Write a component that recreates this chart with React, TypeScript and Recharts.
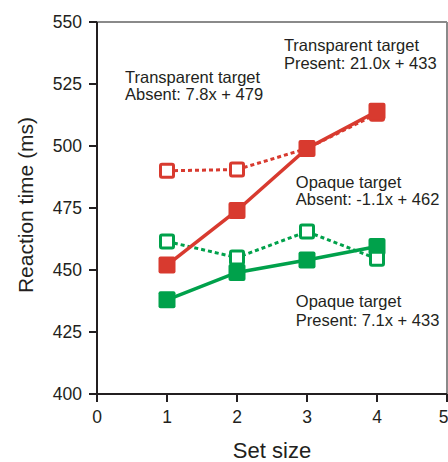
import React from "react";
import {
  LineChart,
  Line,
  XAxis,
  YAxis,
  ReferenceLine,
  ReferenceDot,
} from "recharts";

const setSizes = [1, 2, 3, 4];
const transparentPresent = [452, 474, 499, 514];
const transparentAbsent = [490, 490.5, 499, 513];
const opaquePresent = [438, 449, 454, 459.5];
const opaqueAbsent = [461.5, 455, 465.5, 454.5];

const xTicks = [0, 1, 2, 3, 4, 5];
const yTicks = [400, 425, 450, 475, 500, 525, 550];

const notes = [
  { x: 0.4, y: 525.4, lines: ["Transparent target", "Absent: 7.8x + 479"], lh: 17 },
  { x: 2.67, y: 538.3, lines: ["Transparent target", "Present: 21.0x + 433"], lh: 17.5 },
  { x: 2.84, y: 483.1, lines: ["Opaque target", "Absent: -1.1x + 462"], lh: 17 },
  { x: 2.84, y: 435.1, lines: ["Opaque target", "Present: 7.1x + 433"], lh: 19 },
];

const data = setSizes.map((s, i) => ({
  size: s,
  tp: transparentPresent[i],
  ta: transparentAbsent[i],
  op: opaquePresent[i],
  oa: opaqueAbsent[i],
}));

const RED = "#d83a2f";
const GREEN = "#00a14b";
const INK = "#231f20";
const FONT = "'Liberation Sans', Arial, sans-serif";

function filledSquare(color: string) {
  return (props: any) => {
    const { cx, cy, index } = props;
    if (cx == null || cy == null) return <g key={index} />;
    return (
      <rect key={index} x={cx - 8.5} y={cy - 8.5} width={17} height={17} rx={2} fill={color} />
    );
  };
}

function openSquare(color: string) {
  return (props: any) => {
    const { cx, cy, index } = props;
    if (cx == null || cy == null) return <g key={index} />;
    return (
      <rect
        key={index}
        x={cx - 6.5}
        y={cy - 6.5}
        width={13}
        height={13}
        rx={1.5}
        fill="#fff"
        stroke={color}
        strokeWidth={3}
      />
    );
  };
}

function NoteLabel(props: any) {
  const { viewBox, lines, lh } = props;
  const x = viewBox.x + viewBox.width / 2;
  const y = viewBox.y + viewBox.height / 2;
  return (
    <text x={x} y={y} fill={INK} fontSize={16.5} fontFamily={FONT}>
      {lines.map((t: string, i: number) => (
        <tspan key={i} x={x} y={y + i * lh}>
          {t}
        </tspan>
      ))}
    </text>
  );
}

function YTitle(props: any) {
  const { viewBox } = props;
  const cy = viewBox.y + viewBox.height / 2 - 3;
  return (
    <text
      x={33}
      y={cy}
      transform={`rotate(-90, 33, ${cy})`}
      textAnchor="middle"
      fill={INK}
      fontSize={21}
      fontFamily={FONT}
    >
      Reaction time (ms)
    </text>
  );
}

export default function App() {
  return (
    <div style={{ position: "absolute", left: 0, top: 0, background: "#fff" }}>
      <LineChart
        width={448}
        height={462}
        data={data}
        margin={{ top: 22, right: 1, bottom: 0, left: 0 }}
      >
        <XAxis
          dataKey="size"
          type="number"
          domain={[0, 5]}
          ticks={xTicks}
          height={68}
          tickSize={8}
          tickMargin={9}
          stroke={INK}
          strokeWidth={2}
          tick={{ fill: INK, fontSize: 17.5, fontFamily: FONT }}
          tickLine={{ stroke: INK, strokeWidth: 2 }}
          label={{
            value: "Set size",
            position: "insideBottom",
            offset: 4,
            fill: INK,
            fontSize: 22,
            fontFamily: FONT,
          }}
        />
        <YAxis
          type="number"
          domain={[400, 550]}
          ticks={yTicks}
          width={97}
          tickSize={8}
          tickMargin={7}
          stroke={INK}
          strokeWidth={2}
          tick={{ fill: INK, fontSize: 17.5, fontFamily: FONT }}
          tickLine={{ stroke: INK, strokeWidth: 2 }}
          label={<YTitle />}
        />
        <ReferenceLine y={550} stroke="#8a8a8a" strokeWidth={2} />
        <ReferenceLine x={5} stroke="#8a8a8a" strokeWidth={2} />
        <Line
          dataKey="op"
          stroke={GREEN}
          strokeWidth={3.5}
          dot={filledSquare(GREEN)}
          isAnimationActive={false}
        />
        <Line
          dataKey="oa"
          stroke={GREEN}
          strokeWidth={3}
          strokeDasharray="4 3"
          dot={openSquare(GREEN)}
          isAnimationActive={false}
        />
        <Line
          dataKey="ta"
          stroke={RED}
          strokeWidth={3}
          strokeDasharray="4 3"
          dot={openSquare(RED)}
          isAnimationActive={false}
        />
        <Line
          dataKey="tp"
          stroke={RED}
          strokeWidth={3.5}
          dot={filledSquare(RED)}
          isAnimationActive={false}
        />
        {notes.map((n, i) => (
          <ReferenceDot
            key={i}
            x={n.x}
            y={n.y}
            r={1}
            fill="none"
            stroke="none"
            label={<NoteLabel lines={n.lines} lh={n.lh} />}
          />
        ))}
      </LineChart>
    </div>
  );
}
